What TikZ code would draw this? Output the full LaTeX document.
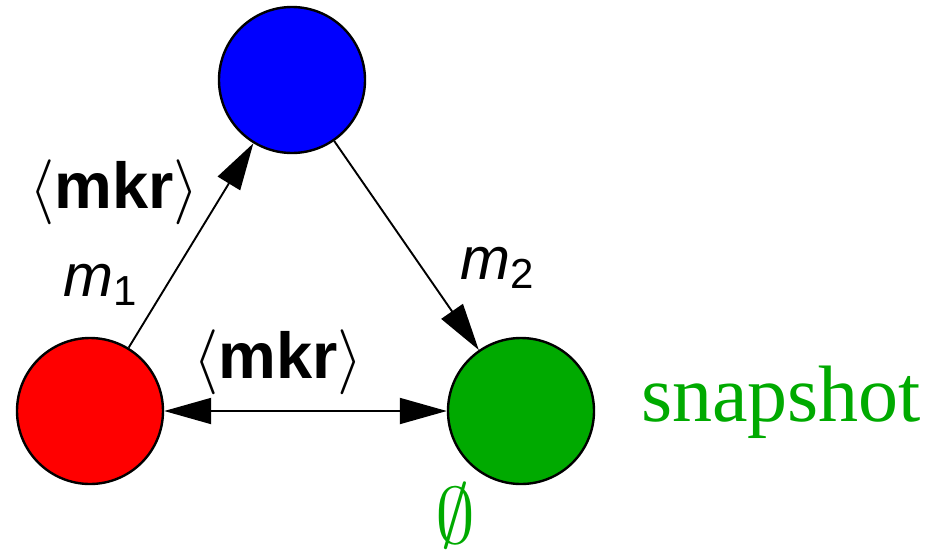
\documentclass[tikz,border=0pt]{standalone}
\usepackage{fix-cm}
\usepackage{fontspec}
\setmainfont{Liberation Serif}
\setsansfont{Liberation Sans}
\usetikzlibrary{arrows.meta,positioning}
\definecolor{snapgreen}{RGB}{0,170,0}
\tikzset{
	proc/.style={circle,draw,line width=2.4pt,minimum size=146pt,inner sep=0pt},
	msg/.style={line width=1.9pt,-{Triangle[length=47pt,width=26pt]}},
	bidir/.style={line width=1.9pt,{Triangle[length=47pt,width=26pt]}-{Triangle[length=47pt,width=26pt]}},
	lbl/.style={font=\sffamily\fontsize{60}{72}\selectfont},
	mkr/.style={font=\sffamily\fontsize{65}{78}\selectfont},
	snap/.style={text=snapgreen,font=\rmfamily\fontsize{80}{96}\selectfont}
}
\newcommand{\mkrmsg}{$\langle$\textbf{mkr}$\rangle$}

\begin{document}
\begin{tikzpicture}[x=1pt,y=-1pt]
	\useasboundingbox (0,0) rectangle (933,552);
	
	% processes
	\node[proc,fill=blue] (pb) at (292,80) {};
	\node[proc,fill=red] (pr) at (90,411) {};
	\node[proc,fill=snapgreen] (pg) at (521,411) {};
	
	% channels
	\draw[msg] (pr) -- (pb);
	\draw[msg] (pb) -- (pg);
	\draw[bidir] (pr) -- (pg);
	
	% labels
	\node[mkr] (mkra) at (114,192) {\mkrmsg};
	\node[lbl] (ma) at (100,285) {\textit{m}\textsubscript{1}};
	\node[lbl] (mb) at (497,268) {\textit{m}\textsubscript{2}};
	\node[mkr] (mkrb) at (278,362) {\mkrmsg};
	\node[snap] (snp) at (781,402) {snapshot};
	\node[snap] (empt) at (455,516) {$\emptyset$};
	
\end{tikzpicture}
\end{document}
